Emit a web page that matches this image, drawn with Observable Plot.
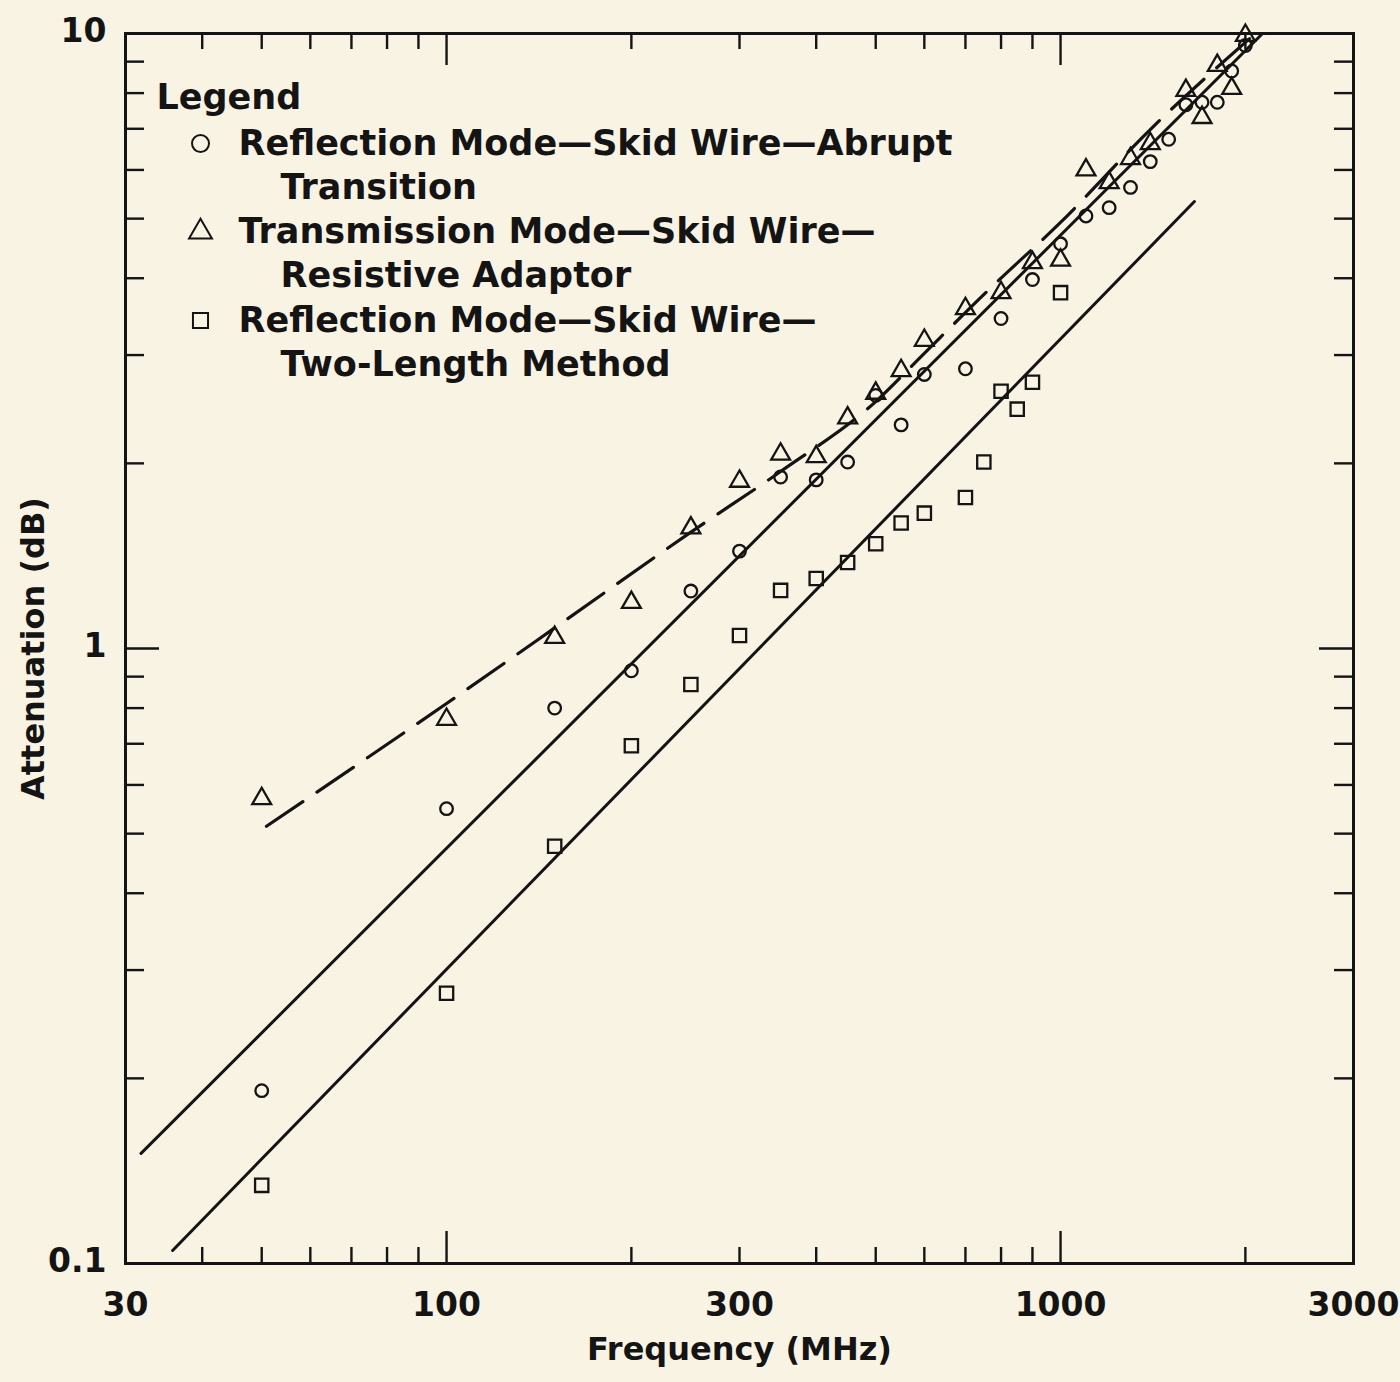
<!DOCTYPE html>
<html>
<head>
<meta charset="utf-8">
<script src="https://cdn.jsdelivr.net/npm/d3@7"></script>
<script src="https://cdn.jsdelivr.net/npm/@observablehq/plot@0.6"></script>
<style>
  html, body { margin: 0; padding: 0; background: #f9f3e4; }
  #chart svg { display: block; }
</style>
</head>
<body>
<div id="chart"></div>
<script>
// Reflection mode, skid wire, abrupt transition (circles)
const abruptFreq  = [50, 100, 150, 200, 250, 300, 350, 400, 450, 500, 550, 600, 700, 800, 900, 1000, 1100, 1200, 1300, 1400, 1500, 1600, 1700, 1800, 1900, 2000];
const abruptAtten = [0.191, 0.549, 0.80, 0.92, 1.24, 1.44, 1.90, 1.88, 2.01, 2.58, 2.31, 2.79, 2.85, 3.44, 3.98, 4.55, 5.05, 5.21, 5.62, 6.19, 6.73, 7.66, 7.73, 7.73, 8.69, 9.56];

// Transmission mode, skid wire, resistive adaptor (triangles)
const transFreq  = [50, 100, 150, 200, 250, 300, 350, 400, 450, 500, 550, 600, 700, 800, 900, 1000, 1100, 1200, 1300, 1400, 1600, 1700, 1800, 1900, 2000];
const transAtten = [0.570, 0.767, 1.042, 1.188, 1.57, 1.87, 2.07, 2.05, 2.37, 2.60, 2.83, 3.17, 3.57, 3.79, 4.24, 4.28, 6.00, 5.72, 6.26, 6.62, 8.08, 7.30, 8.87, 8.14, 9.93];

// Reflection mode, skid wire, two-length method (squares)
const twoLenFreq  = [50, 100, 150, 200, 250, 300, 350, 400, 450, 500, 550, 600, 700, 750, 800, 850, 900, 1000];
const twoLenAtten = [0.134, 0.275, 0.477, 0.695, 0.874, 1.05, 1.243, 1.30, 1.38, 1.48, 1.60, 1.66, 1.76, 2.01, 2.62, 2.45, 2.71, 3.79];

// Fitted curves
const abruptFitFreq  = [31.8, 2133];
const abruptFitAtten = [0.151, 10];
const twoLenFitFreq  = [35.8, 1652];
const twoLenFitAtten = [0.105, 5.33];
const transFitFreq  = [50.9, 100, 150, 250, 350, 500, 600, 770, 1000, 1400, 2077];
const transFitAtten = [0.514, 0.814, 1.08, 1.546, 1.94, 2.52, 3.02, 3.86, 4.93, 6.98, 10];

// Axis ticks and labels
const xLabelTicks = [30, 100, 300, 1000, 3000];
const yLabelTicks = [0.1, 1, 10];
const xMinorTicks = [40, 50, 60, 70, 80, 90, 200, 300, 400, 500, 600, 700, 800, 900, 2000];
const xMajorTicks = [100, 1000];
const yMinorTicks = [0.2, 0.3, 0.4, 0.5, 0.6, 0.7, 0.8, 0.9, 2, 3, 4, 5, 6, 7, 8, 9];
const yMajorTicks = [1];

const xTitle = "Frequency (MHz)";
const yTitle = "Attenuation (dB)";
const legendTitle = "Legend";
const legendSymbols = ["circle", "triangle", "square"];
const legendLines = [
  ["Reflection Mode\u2014Skid Wire\u2014Abrupt", "Transition"],
  ["Transmission Mode\u2014Skid Wire\u2014", "Resistive Adaptor"],
  ["Reflection Mode\u2014Skid Wire\u2014", "Two-Length Method"]
];

const zip = (xs, ys) => xs.map((x, i) => ({f: x, a: ys[i]}));

const W = 1400, H = 1382;
const mL = 125, mR = 47, mT = 33, mB = 119;
const innerW = W - mL - mR;
const innerH = H - mT - mB;
const ink = "#141414";
const font = "DejaVu Sans";

const minorLenX = 16, majorLenX = 32, minorLenY = 19, majorLenY = 34;
const tickW = 2.4;

const marks = [
  Plot.frame({stroke: ink, strokeWidth: 3}),

  // inward ticks on all four sides
  Plot.ruleX(xMinorTicks, {stroke: ink, strokeWidth: tickW, insetTop: innerH - minorLenX}),
  Plot.ruleX(xMajorTicks, {stroke: ink, strokeWidth: tickW, insetTop: innerH - majorLenX}),
  Plot.ruleX(xMinorTicks, {stroke: ink, strokeWidth: tickW, insetBottom: innerH - minorLenX}),
  Plot.ruleX(xMajorTicks, {stroke: ink, strokeWidth: tickW, insetBottom: innerH - majorLenX}),
  Plot.ruleY(yMinorTicks, {stroke: ink, strokeWidth: tickW, insetRight: innerW - minorLenY}),
  Plot.ruleY(yMajorTicks, {stroke: ink, strokeWidth: tickW, insetRight: innerW - majorLenY}),
  Plot.ruleY(yMinorTicks, {stroke: ink, strokeWidth: tickW, insetLeft: innerW - minorLenY}),
  Plot.ruleY(yMajorTicks, {stroke: ink, strokeWidth: tickW, insetLeft: innerW - majorLenY}),

  // tick labels
  Plot.axisX(xLabelTicks, {tickSize: 0, tickPadding: 29, label: null, tickFormat: d => String(d),
    fontSize: 33, fontWeight: "bold", fontFamily: font, fill: ink}),
  Plot.axisY(yLabelTicks, {tickSize: 0, tickPadding: 19, label: null, tickFormat: d => String(d),
    fontSize: 33, fontWeight: "bold", fontFamily: font, fill: ink, dy: -2}),

  // axis titles
  Plot.text([xTitle], {text: d => d, frameAnchor: "bottom", lineAnchor: "middle", textAnchor: "middle",
    dy: 86, fontSize: 32, fontWeight: "bold", fontFamily: font, fill: ink}),
  Plot.text([yTitle], {text: d => d, frameAnchor: "left", lineAnchor: "middle", textAnchor: "middle",
    dx: -92, rotate: -90, fontSize: 32, fontWeight: "bold", fontFamily: font, fill: ink}),

  // fitted lines
  Plot.line(zip(abruptFitFreq, abruptFitAtten), {x: "f", y: "a", stroke: ink, strokeWidth: 3}),
  Plot.line(zip(twoLenFitFreq, twoLenFitAtten), {x: "f", y: "a", stroke: ink, strokeWidth: 3}),
  Plot.line(zip(transFitFreq, transFitAtten), {x: "f", y: "a", stroke: ink, strokeWidth: 3.2,
    strokeDasharray: "44,17", curve: "monotone-x"}),

  // measured points
  Plot.dot(zip(abruptFreq, abruptAtten), {x: "f", y: "a", symbol: "circle", r: 6.3, stroke: ink, strokeWidth: 2.3, fill: "none"}),
  Plot.dot(zip(transFreq, transAtten), {x: "f", y: "a", symbol: "triangle", r: 7, stroke: ink, strokeWidth: 2.3, fill: "none"}),
  Plot.dot(zip(twoLenFreq, twoLenAtten), {x: "f", y: "a", symbol: "square", r: 7.5, stroke: ink, strokeWidth: 2.3, fill: "none"}),

  // legend block inside the frame
  Plot.text([legendTitle], {text: d => d, frameAnchor: "top-left", lineAnchor: "middle", textAnchor: "start",
    dx: 31, dy: 64, fontSize: 35, fontWeight: "bold", fontFamily: font, fill: ink})
];

legendLines.forEach((lines, i) => {
  const rowY = 110 + 88.5 * i;
  marks.push(
    Plot.dot([legendSymbols[i]], {frameAnchor: "top-left", dx: 75, dy: rowY, symbol: d => d, r: 8.5,
      stroke: ink, strokeWidth: 2, fill: "none"}),
    Plot.text([lines[0]], {text: d => d, frameAnchor: "top-left", lineAnchor: "middle", textAnchor: "start",
      dx: 113, dy: rowY, fontSize: 35, fontWeight: "bold", fontFamily: font, fill: ink}),
    Plot.text([lines[1]], {text: d => d, frameAnchor: "top-left", lineAnchor: "middle", textAnchor: "start",
      dx: 155, dy: rowY + 44, fontSize: 35, fontWeight: "bold", fontFamily: font, fill: ink})
  );
});

const chart = Plot.plot({
  width: W,
  height: H,
  marginLeft: mL,
  marginRight: mR,
  marginTop: mT,
  marginBottom: mB,
  style: {background: "transparent", color: ink, fontFamily: font},
  x: {type: "log", domain: [30, 3000]},
  y: {type: "log", domain: [0.1, 10]},
  symbol: {domain: ["circle", "triangle", "square"], range: ["circle", "triangle", "square"]},
  marks
});

document.getElementById("chart").appendChild(chart);
</script>
</body>
</html>
